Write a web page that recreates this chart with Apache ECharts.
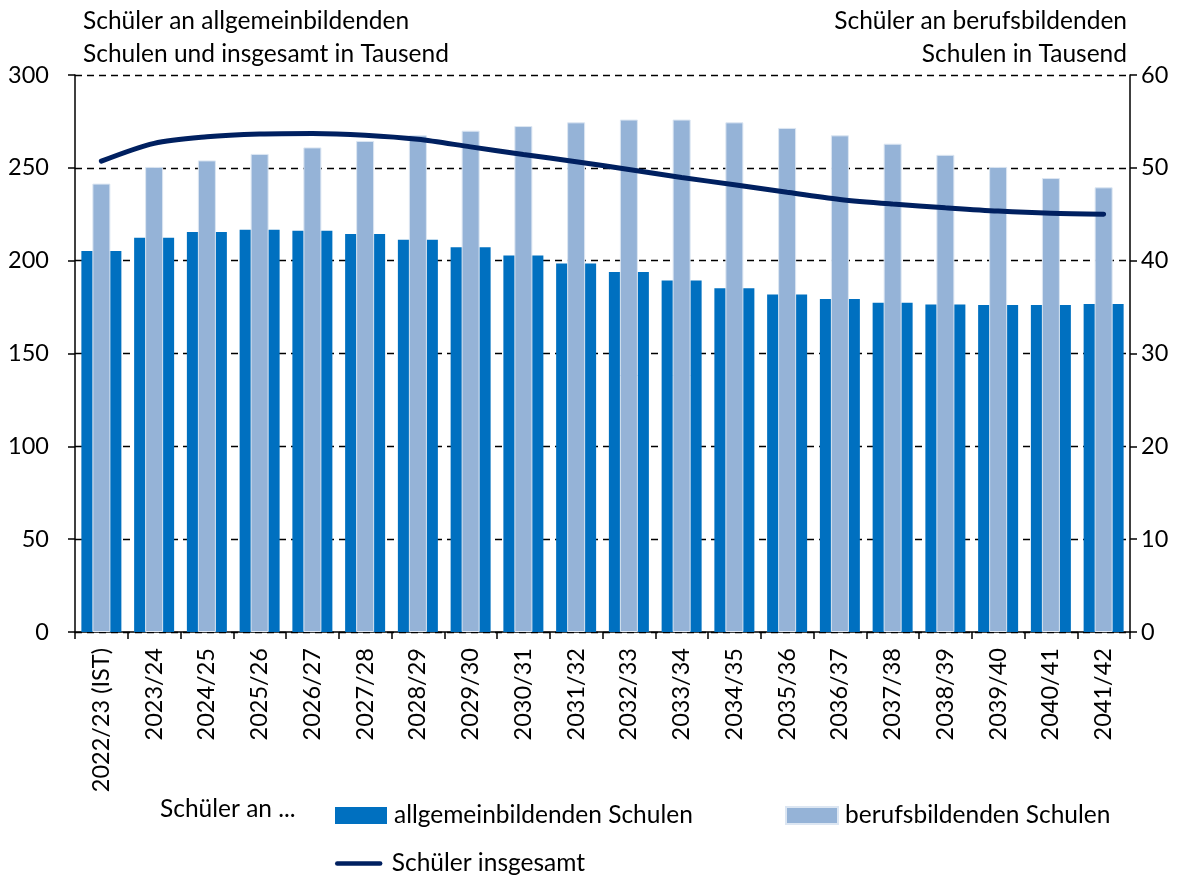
<!DOCTYPE html>
<html>
<head>
<meta charset="utf-8">
<script src="https://cdn.jsdelivr.net/npm/echarts@6/dist/echarts.min.js"></script>
<style>
  html, body { margin: 0; padding: 0; background: #fff; }
  #chart { width: 1192px; height: 877px; }
</style>
</head>
<body>
<div id="chart"></div>
<script>
// Schuljahre
const categories = [
  '2022/23 (IST)', '2023/24', '2024/25', '2025/26', '2026/27', '2027/28', '2028/29',
  '2029/30', '2030/31', '2031/32', '2032/33', '2033/34', '2034/35', '2035/36',
  '2036/37', '2037/38', '2038/39', '2039/40', '2040/41', '2041/42'
]
// Schüler an allgemeinbildenden Schulen (Tausend, linke Achse)
const allgemein = [
  205.2, 212.4, 215.4, 216.7, 216.1, 214.3, 211.3, 207.2, 202.8, 198.5,
  193.9, 189.3, 185.2, 181.8, 179.3, 177.3, 176.4, 176.1, 176.1, 176.6
]
// Schüler an berufsbildenden Schulen (Tausend, rechte Achse)
const berufs = [
  48.3, 50.1, 50.8, 51.5, 52.2, 52.9, 53.5, 54.0, 54.5, 54.9,
  55.2, 55.2, 54.9, 54.3, 53.5, 52.6, 51.4, 50.1, 48.9, 47.9
]
// Schüler insgesamt (Tausend, linke Achse)
const insgesamt = [
  253.6, 263.2, 266.7, 268.2, 268.5, 267.6, 265.4, 261.3, 257.2, 253.3,
  249.1, 244.8, 240.9, 236.8, 233.0, 230.5, 228.5, 226.7, 225.5, 225.0
]
const leftTicks = [0, 50, 100, 150, 200, 250, 300]
const rightTicks = [0, 10, 20, 30, 40, 50, 60]

const FONT = 'Lato'
const FS = 23.5   // Achsenbeschriftung
const FT = 24.5   // Titel und Legende
const chart = echarts.init(document.getElementById('chart'))

// --- y-Achse (gemeinsame Einstellungen)
function valueAxis (ticks, position) {
  return {
    type: 'value',
    position: position,
    min: ticks[0],
    max: ticks[ticks.length - 1],
    interval: ticks[1] - ticks[0],
    axisLine: { show: true, lineStyle: { color: '#000', width: 1.5 } },
    axisTick: { show: true, length: 7, lineStyle: { color: '#000', width: 1.5 } },
    axisLabel: { color: '#000', fontSize: FS, fontFamily: FONT, margin: position === 'left' ? 26 : 11 },
    splitLine: {
      show: position === 'left',
      lineStyle: { color: '#000', width: 1.3, type: [7, 5] }
    }
  }
}

function label (text, pos, top) {
  return {
    type: 'text', top: top, ...pos,
    style: { text: text, fontSize: FT, fontFamily: FONT, fill: '#000' }
  }
}

// --- Legende: ein Eintrag je Komponente, damit die Positionen fest sind
function legendItem (name, left, top, icon) {
  return {
    left: left, top: top,
    itemWidth: 52, itemHeight: 17,
    textStyle: { fontSize: FT, fontFamily: FONT, color: '#000', padding: [0, 0, 0, 2] },
    data: [{ name: name, icon: icon }]
  }
}

const option = {
  backgroundColor: '#fff',
  animation: false,
  textStyle: { fontFamily: FONT },
  grid: { left: 75, right: 62, top: 75, bottom: 245, containLabel: false },
  // --- Achsentitel
  graphic: [
    label('Schüler an allgemeinbildenden', { left: 83 }, 9),
    label('Schulen und insgesamt in Tausend', { left: 83 }, 42),
    label('Schüler an berufsbildenden', { right: 65 }, 9),
    label('Schulen in Tausend', { right: 65 }, 42),
    label('Schüler an ...', { left: 160 }, 797)
  ],
  legend: [
    legendItem('allgemeinbildenden Schulen', 330, 798, 'rect'),
    legendItem('berufsbildenden Schulen', 780, 798, 'rect'),
    legendItem('Schüler insgesamt', 330, 846,
      'path://M2,7 L50,7 A2.5,2.5 0 0 1 50,12 L2,12 A2.5,2.5 0 0 1 2,7 Z M0,0 L0,0 M52,19 L52,19')
  ],
  xAxis: [
    {
      type: 'category',
      data: categories,
      axisLine: { lineStyle: { color: '#000', width: 1.5 } },
      axisTick: { show: true, length: 7, lineStyle: { color: '#000', width: 1.5 } },
      axisLabel: { rotate: 90, color: '#000', fontSize: FS, fontFamily: FONT, margin: 16, interval: 0 }
    },
    {
      // unsichtbare Achse, damit die hellen Balken mittig über den dunklen liegen
      type: 'category',
      data: categories,
      show: false
    }
  ],
  yAxis: [
    valueAxis(leftTicks, 'left'),
    valueAxis(rightTicks, 'right')
  ],
  series: [
    {
      name: 'allgemeinbildenden Schulen',
      type: 'bar',
      xAxisIndex: 0,
      yAxisIndex: 0,
      barWidth: 40,
      itemStyle: { color: '#0070C0' },
      data: allgemein
    },
    {
      name: 'berufsbildenden Schulen',
      type: 'bar',
      xAxisIndex: 1,
      yAxisIndex: 1,
      barWidth: 18,
      itemStyle: { color: '#95B3D7', borderColor: '#dce6f2', borderWidth: 1 },
      data: berufs
    },
    {
      name: 'Schüler insgesamt',
      type: 'line',
      xAxisIndex: 0,
      yAxisIndex: 0,
      smooth: 0.3,
      symbol: 'none',
      lineStyle: { color: '#002060', width: 5, cap: 'round' },
      itemStyle: { color: '#002060' },
      z: 5,
      data: insgesamt
    }
  ]
}

chart.setOption(option)
</script>
</body>
</html>
